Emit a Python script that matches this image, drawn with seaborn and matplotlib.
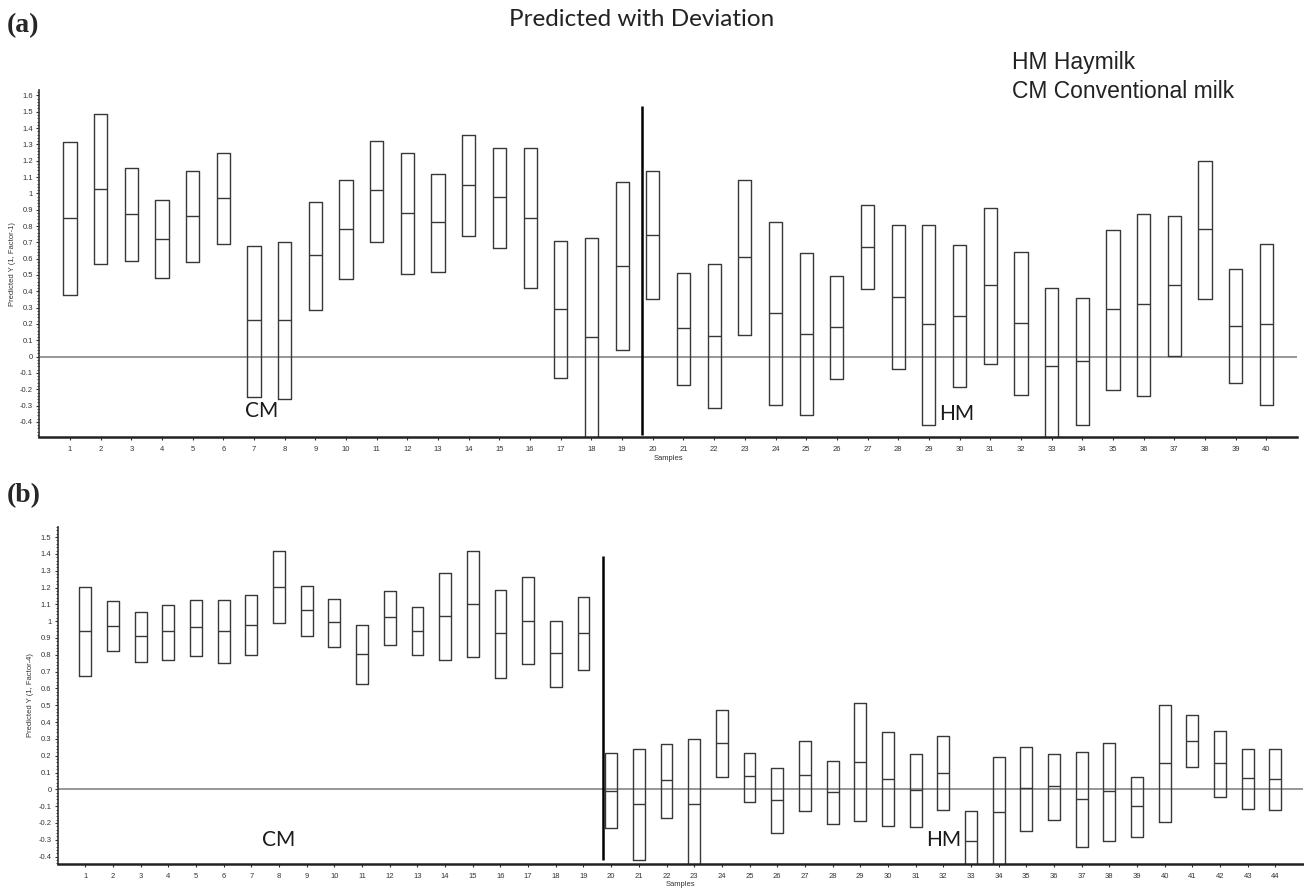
import numpy as np
import pandas as pd
import matplotlib
matplotlib.use("Agg")
import matplotlib.pyplot as plt
from matplotlib.ticker import FixedLocator, MultipleLocator, FuncFormatter
import seaborn as sns

# ---------------- data ----------------
samples_a = list(range(1, 41))
mid_a = [0.849, 1.027, 0.873, 0.722, 0.863, 0.971, 0.222, 0.222, 0.620, 0.780,
         1.018, 0.880, 0.824, 1.051, 0.978, 0.849, 0.290, 0.118, 0.557, 0.745,
         0.173, 0.129, 0.610, 0.265, 0.139, 0.182, 0.673, 0.363, 0.198, 0.251,
         0.439, 0.208, -0.057, -0.029, 0.290, 0.320, 0.437, 0.780, 0.186, 0.198]
upper_a = [1.314, 1.486, 1.157, 0.957, 1.139, 1.247, 0.678, 0.700, 0.947, 1.080,
           1.320, 1.247, 1.116, 1.359, 1.280, 1.280, 0.710, 0.727, 1.067, 1.135,
           0.514, 0.565, 1.080, 0.824, 0.633, 0.496, 0.931, 0.804, 0.808, 0.682,
           0.912, 0.643, 0.422, 0.357, 0.773, 0.873, 0.863, 1.198, 0.535, 0.692]
lower_a = [0.378, 0.565, 0.588, 0.480, 0.582, 0.688, -0.245, -0.261, 0.286, 0.476,
           0.700, 0.506, 0.520, 0.741, 0.667, 0.418, -0.131, -0.50, 0.039, 0.353,
           -0.176, -0.314, 0.133, -0.294, -0.357, -0.137, 0.412, -0.078, -0.420, -0.186,
           -0.045, -0.235, -0.54, -0.420, -0.202, -0.239, 0.004, 0.353, -0.161, -0.298]

samples_b = list(range(1, 45))
mid_b = [0.939, 0.971, 0.911, 0.939, 0.967, 0.943, 0.979, 1.205, 1.068, 0.995,
         0.804, 1.022, 0.943, 1.030, 1.104, 0.929, 1.003, 0.808, 0.929, -0.010,
         -0.085, 0.053, -0.085, 0.275, 0.077, -0.061, 0.085, -0.016, 0.164, 0.063,
         -0.002, 0.099, -0.307, -0.135, 0.008, 0.018, -0.057, -0.012, -0.101, 0.157,
         0.289, 0.157, 0.067, 0.063]
upper_b = [1.201, 1.118, 1.054, 1.094, 1.127, 1.127, 1.153, 1.417, 1.209, 1.131,
           0.975, 1.179, 1.086, 1.284, 1.417, 1.187, 1.260, 1.003, 1.145, 0.214,
           0.242, 0.269, 0.297, 0.472, 0.214, 0.127, 0.287, 0.168, 0.511, 0.339,
           0.210, 0.315, -0.127, 0.192, 0.252, 0.210, 0.224, 0.273, 0.071, 0.499,
           0.440, 0.347, 0.242, 0.238]
lower_b = [0.672, 0.822, 0.757, 0.771, 0.795, 0.751, 0.798, 0.989, 0.913, 0.846,
           0.628, 0.856, 0.798, 0.771, 0.787, 0.660, 0.743, 0.610, 0.707, -0.230,
           -0.418, -0.168, -0.47, 0.071, -0.073, -0.258, -0.129, -0.206, -0.190, -0.220,
           -0.224, -0.123, -0.49, -0.46, -0.250, -0.180, -0.345, -0.305, -0.285, -0.196,
           0.131, -0.046, -0.115, -0.121]

title = "Predicted with Deviation"
legend_lines = ["HM Haymilk", "CM Conventional milk"]
ylabel_a = "Predicted Y (1, Factor-1)"
ylabel_b = "Predicted Y (1, Factor-4)"
xlabel = "Samples"


def long_table(samples, lo, mid, hi):
    # five points per sample so that Q1 = lower, median = mid, Q3 = upper
    rows = []
    for s, l, m, h in zip(samples, lo, mid, hi):
        for v in (l, l, m, h, h):
            rows.append({"sample": s, "value": v})
    return pd.DataFrame(rows)


sns.set_style("ticks")
plt.rcParams["font.family"] = ["Liberation Sans", "DejaVu Sans"]

W, H = 1304, 889
fig = plt.figure(figsize=(W / 100, H / 100), dpi=100)


def px_axes(left, right, top, bottom):
    return fig.add_axes([left / W, 1 - bottom / H, (right - left) / W, (bottom - top) / H])


box_color = "#383838"
calibri_like = ["Lato", "DejaVu Sans"]


def fmt(v, p):
    if abs(v) < 1e-9:
        return "0"
    return f"{round(v, 1):g}"


def draw_panel(ax, samples, lo, mid, hi, ylim, yticks, xlim, vline_x, vline_y, ylabel):
    df = long_table(samples, lo, mid, hi)
    sns.boxplot(data=df, x="sample", y="value", native_scale=True, orient="x",
                fill=False, color=box_color, width=0.43, whis=0, showcaps=False,
                showfliers=False, linewidth=1.0,
                medianprops=dict(color=box_color, linewidth=1.0),
                whiskerprops=dict(linewidth=0), ax=ax)
    ax.axhline(0, color="#7a7a7a", lw=1.1, zorder=0.5)
    ax.vlines(vline_x, vline_y[0], vline_y[1], color="black", lw=1.8, zorder=3)
    ax.set_xlim(*xlim)
    ax.set_ylim(*ylim)
    ax.xaxis.set_major_locator(FixedLocator(samples))
    ax.set_xticklabels([str(s) for s in samples])
    ax.yaxis.set_major_locator(FixedLocator(yticks))
    ax.yaxis.set_minor_locator(MultipleLocator(0.02))
    ax.yaxis.set_major_formatter(FuncFormatter(fmt))
    for side in ("top", "right"):
        ax.spines[side].set_visible(False)
    ax.spines["bottom"].set_linewidth(1.8)
    ax.spines["bottom"].set_color("#222222")
    ax.spines["left"].set_linewidth(1.2)
    ax.spines["left"].set_color("#333333")
    ax.tick_params(axis="both", which="major", labelsize=5.5, length=2.5, width=0.8,
                   color="#333333", labelcolor="#333333", pad=2)
    ax.tick_params(axis="y", which="minor", length=1.3, width=0.6, color="#333333")
    ax.tick_params(axis="x", which="major", pad=4)
    ax.set_xlabel(xlabel, fontsize=5.5, color="#333333", labelpad=1)
    ax.set_ylabel(ylabel, fontsize=5.5, color="#333333", labelpad=3)
    ax.set_facecolor("white")


# panel (a)
ax_a = px_axes(39.3, 1297, 90, 437.3)
draw_panel(ax_a, samples_a, lower_a, mid_a, upper_a,
           ylim=(-0.494, 1.633), yticks=np.round(np.arange(-0.4, 1.61, 0.1), 1),
           xlim=(0, 41), vline_x=19.64, vline_y=(-0.48, 1.535), ylabel=ylabel_a)
ax_a.text(7.25, -0.33, "CM", fontsize=15, family=calibri_like, color="#1a1a1a",
          ha="center", va="center")
ax_a.text(29.9, -0.35, "HM", fontsize=15, family=calibri_like, color="#1a1a1a",
          ha="center", va="center")

# panel (b)
ax_b = px_axes(57.7, 1303, 527, 864)
draw_panel(ax_b, samples_b, lower_b, mid_b, upper_b,
           ylim=(-0.444, 1.56), yticks=np.round(np.arange(-0.4, 1.51, 0.1), 1),
           xlim=(0, 45), vline_x=19.70, vline_y=(-0.418, 1.39), ylabel=ylabel_b)
ax_b.text(8.0, -0.30, "CM", fontsize=15, family=calibri_like, color="#1a1a1a",
          ha="center", va="center")
ax_b.text(32.0, -0.30, "HM", fontsize=15, family=calibri_like, color="#1a1a1a",
          ha="center", va="center")

# figure texts
fig.text(7 / W, 1 - 26 / H, "(a)", fontsize=20, fontweight="bold",
         family=["Liberation Serif", "DejaVu Serif"], ha="left", va="center")
fig.text(7 / W, 1 - 496 / H, "(b)", fontsize=20, fontweight="bold",
         family=["Liberation Serif", "DejaVu Serif"], ha="left", va="center")
fig.text(642 / W, 1 - 20 / H, title, fontsize=17.5, family=calibri_like,
         color="#222222", ha="center", va="center")
fig.text(1012 / W, 1 - 63 / H, legend_lines[0], fontsize=16.5, color="#222222",
         ha="left", va="center")
fig.text(1012 / W, 1 - 91 / H, legend_lines[1], fontsize=16.5, color="#222222",
         ha="left", va="center")

fig.savefig("out.png", dpi=100, facecolor="white")
